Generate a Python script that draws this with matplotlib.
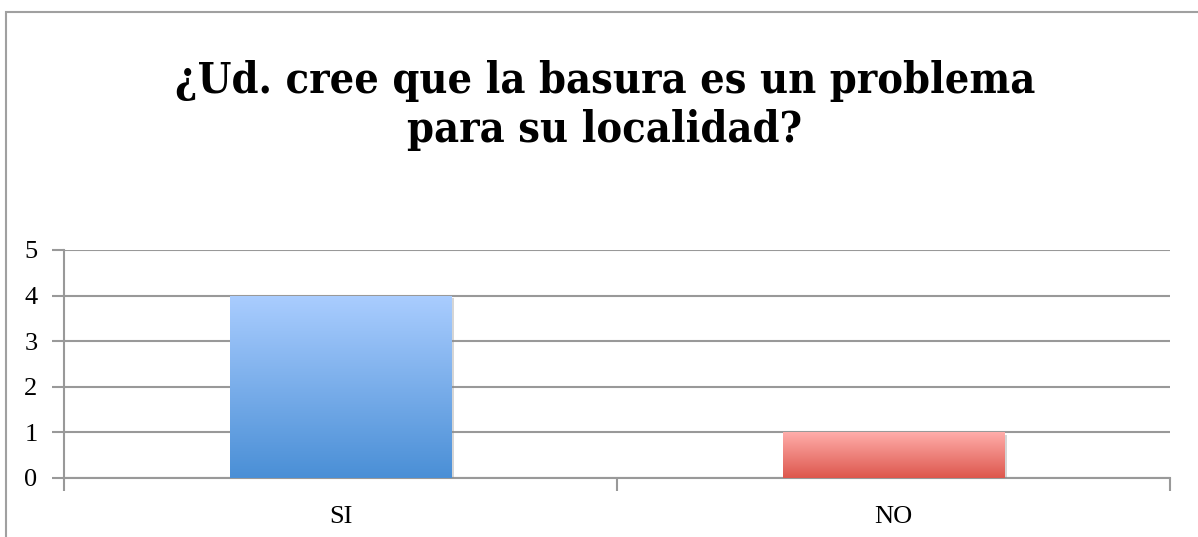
import numpy as np
import matplotlib
matplotlib.use("Agg")
import matplotlib.pyplot as plt
from matplotlib.patches import Rectangle
from matplotlib.colors import LinearSegmentedColormap
import matplotlib.patheffects as pe

categories = ["SI", "NO"]
values = [4, 1]
yticks = [0, 1, 2, 3, 4, 5]
title_lines = ["¿Ud. cree que la basura es un problema", "para su localidad?"]
grad_colors = [("#4a8fd6", "#aacdff"), ("#dd574d", "#ffadaa")]

W, H = 1198, 537
fig = plt.figure(figsize=(W / 100, H / 100), dpi=100)
fig.patch.set_facecolor("white")

# outer chart frame
fig.patches.append(Rectangle((6 / W, -0.05), 1.2, (H - 12) / H + 0.05,
                             transform=fig.transFigure, fill=False,
                             edgecolor="#a0a0a0", linewidth=1.5))

ax = fig.add_axes([64 / W, (H - 478) / H, (1170 - 64) / W, (478 - 250) / H])
x = np.arange(len(categories))
bars = ax.bar(x, values, width=0.40, zorder=3, linewidth=0)
ax.set_xlim(-0.5, len(categories) - 0.5)
ax.set_ylim(0, 5)
ax.set_yticks(yticks)
ax.set_xticks([-0.5, 0.5, 1.5], minor=False)
ax.set_xticklabels([])
ax.set_xticks(x, minor=True)
ax.set_xticklabels(categories, minor=True)
ax.tick_params(axis="x", which="minor", length=0, pad=20,
               labelsize=19, labelfontfamily="Liberation Serif")
ax.tick_params(axis="x", which="major", length=9, width=1.5, color="#999999")
ax.tick_params(axis="y", length=9, width=1.5, color="#999999", pad=10,
               labelsize=19, labelfontfamily="Liberation Serif")
ax.grid(axis="y", color="#999999", linewidth=1.5, zorder=1)
ax.set_axisbelow(True)
for s in ["top", "right"]:
    ax.spines[s].set_visible(False)
for s in ["left", "bottom"]:
    ax.spines[s].set_color("#999999")
    ax.spines[s].set_linewidth(1.5)
    ax.spines[s].set_zorder(2)

for bar, (c0, c1) in zip(bars, grad_colors):
    cmap = LinearSegmentedColormap.from_list("g", [c0, c1])
    bx, by = bar.get_x(), bar.get_y()
    bw, bh = bar.get_width(), bar.get_height()
    bar.set_facecolor(c0)
    bar.set_path_effects([pe.SimplePatchShadow(offset=(2, -2), shadow_rgbFace="#888888", alpha=0.35),
                          pe.Normal()])
    grad = np.linspace(0, 1, 256).reshape(-1, 1)
    im = ax.imshow(grad, extent=[bx, bx + bw, by, by + bh], origin="lower",
                   cmap=cmap, aspect="auto", zorder=4)
    im.set_clip_path(bar)

ax.set_xlim(-0.5, len(categories) - 0.5)
ax.set_ylim(0, 5)

for line, yb in zip(title_lines, [93, 142]):
    fig.text(605 / W, 1 - yb / H, line, ha="center", va="baseline",
             fontsize=31, fontweight="bold", fontfamily="DejaVu Serif",
             fontstretch="condensed")

fig.savefig("out.png", dpi=100)
